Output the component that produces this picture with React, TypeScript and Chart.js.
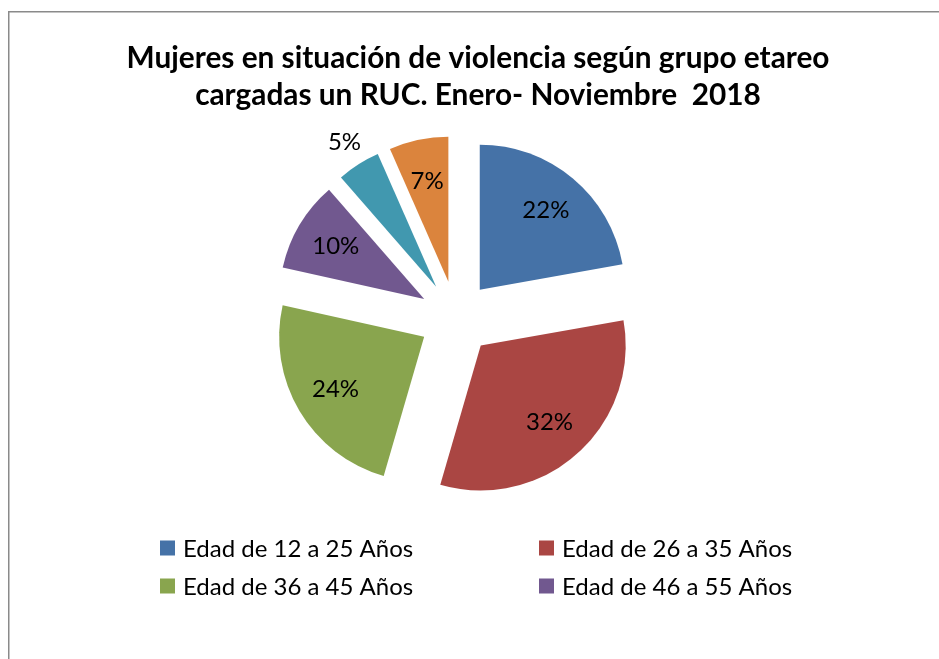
import React, { useEffect, useRef } from "react";
import { Chart, registerables } from "chart.js";

Chart.register(...registerables);

const TITLE_LINES = [
  "Mujeres en situación de violencia según grupo etareo",
  "cargadas un RUC. Enero- Noviembre  2018",
];
const CATEGORIES = [
  "Edad de 12 a 25 Años",
  "Edad de 26 a 35 Años",
  "Edad de 36 a 45 Años",
  "Edad de 46 a 55 Años",
  "Edad de 56 a 65 Años",
  "Edad de 66 Años y más",
];
const VALUES = [22.2, 32.3, 24.0, 10.1, 4.8, 6.6];
const COLORS = ["#4572A7", "#AA4643", "#89A54E", "#71588F", "#4198AF", "#DB843D"];
const LEGEND_COUNT = 4;

const FONT = "Lato, 'Liberation Sans', sans-serif";

// Exploded slice: translate the library-computed wedge by its full offset
// (without the radius growth Chart.js applies to narrow slices).
function explodedDraw(this: any, ctx: CanvasRenderingContext2D) {
  const { x, y, startAngle, endAngle, outerRadius, options } = this;
  if (endAngle - startAngle <= 0 || outerRadius <= 0) return;
  const off = options.offset || 0;
  const mid = (startAngle + endAngle) / 2;
  ctx.save();
  ctx.translate(Math.cos(mid) * off, Math.sin(mid) * off);
  ctx.beginPath();
  ctx.moveTo(x, y);
  ctx.arc(x, y, outerRadius, startAngle, endAngle);
  ctx.closePath();
  ctx.fillStyle = options.backgroundColor;
  ctx.fill();
  ctx.restore();
}

const overlayPlugin = {
  id: "overlay",
  beforeDraw(chart: any) {
    const ctx = chart.ctx;
    ctx.save();
    ctx.fillStyle = "#ffffff";
    ctx.fillRect(0, 0, chart.width, chart.height);
    ctx.strokeStyle = "#8a8a8a";
    ctx.lineWidth = 1.5;
    ctx.beginPath();
    ctx.moveTo(8.75, chart.height + 5);
    ctx.lineTo(8.75, 11.75);
    ctx.lineTo(chart.width + 5, 11.75);
    ctx.stroke();
    // title
    ctx.fillStyle = "#000000";
    ctx.font = `bold 29.8px ${FONT}`;
    ctx.textAlign = "center";
    ctx.textBaseline = "middle";
    ctx.fillText(TITLE_LINES[0], 478, 58);
    ctx.fillText(TITLE_LINES[1], 478, 95);
    // legend
    const items = chart.options.plugins.legend.labels.generateLabels(chart).slice(0, LEGEND_COUNT);
    ctx.font = `24px ${FONT}`;
    ctx.textAlign = "left";
    items.forEach((it: any, i: number) => {
      const col = i % 2;
      const row = Math.floor(i / 2);
      const x = col === 0 ? 160 : 539;
      const y = row === 0 ? 548 : 586;
      ctx.fillStyle = it.fillStyle;
      ctx.fillRect(x, y - 7.5, 15, 15);
      ctx.fillStyle = "#000000";
      ctx.fillText(it.text, x + 23, y + 1);
    });
    ctx.restore();
  },
  beforeDatasetsDraw(chart: any) {
    const meta = chart.getDatasetMeta(0);
    meta.data.forEach((arc: any) => {
      arc.draw = explodedDraw;
    });
  },
  afterDatasetsDraw(chart: any) {
    const ctx = chart.ctx;
    const meta = chart.getDatasetMeta(0);
    const data = chart.data.datasets[0].data as number[];
    const total = data.reduce((a, b) => a + b, 0);
    ctx.save();
    ctx.font = `24px ${FONT}`;
    ctx.fillStyle = "#000000";
    ctx.textAlign = "center";
    ctx.textBaseline = "middle";
    meta.data.forEach((arc: any, i: number) => {
      const { x, y, startAngle, endAngle, outerRadius } = arc.getProps(
        ["x", "y", "startAngle", "endAngle", "outerRadius"],
        true
      );
      const off = arc.options.offset || 0;
      const mid = (startAngle + endAngle) / 2;
      const pct = (data[i] / total) * 100;
      const k = pct < 6 ? 1.18 : 0.71;
      const d = off + k * outerRadius;
      const lx = x + Math.cos(mid) * d;
      const ly = y + Math.sin(mid) * d;
      ctx.fillText(`${Math.round(pct)}%`, lx, ly);
    });
    ctx.restore();
  },
};

export default function App() {
  const ref = useRef<HTMLCanvasElement>(null);
  useEffect(() => {
    if (!ref.current) return;
    const chart = new Chart(ref.current, {
      type: "pie",
      data: {
        labels: CATEGORIES,
        datasets: [
          {
            data: VALUES,
            backgroundColor: COLORS,
            borderWidth: 0,
            offset: 37,
            hoverOffset: 0,
            clip: false,
          } as any,
        ],
      },
      options: {
        responsive: false,
        animation: false,
        events: [],
        layout: { padding: { left: 256, right: 283, top: 154.5, bottom: 177.5 } },
        plugins: {
          legend: { display: false },
          title: { display: false },
          tooltip: { enabled: false },
        },
      },
      plugins: [overlayPlugin],
    });
    return () => chart.destroy();
  }, []);
  return (
    <div style={{ position: "fixed", left: 0, top: 0, width: 939, height: 659, overflow: "hidden", background: "#fff" }}>
      <canvas ref={ref} width={939} height={659} style={{ display: "block", width: 939, height: 659 }} />
    </div>
  );
}
